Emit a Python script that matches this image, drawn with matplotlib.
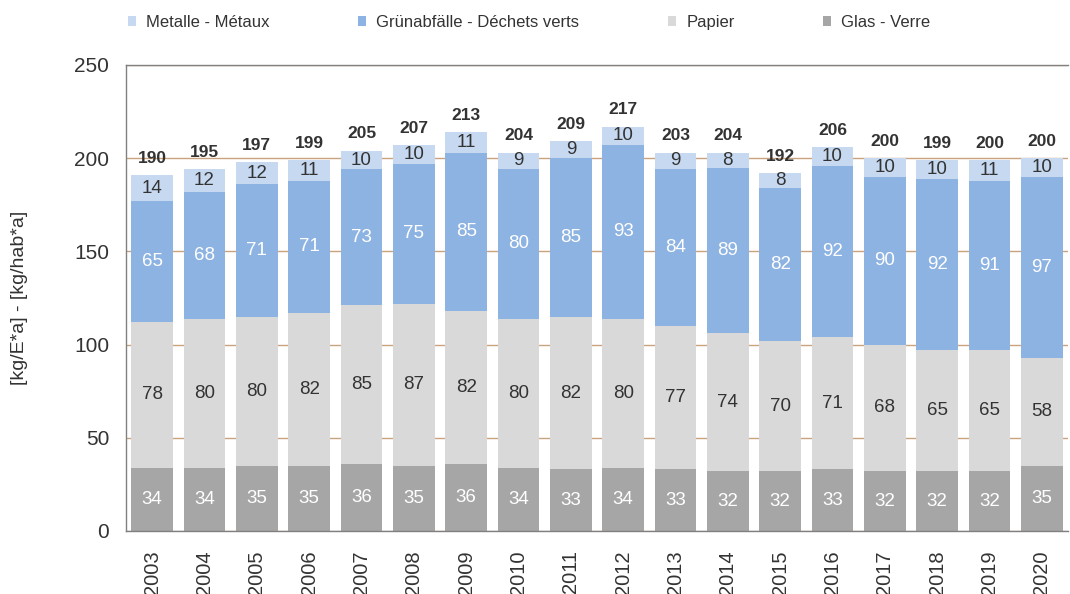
import matplotlib
matplotlib.use("Agg")
import matplotlib.pyplot as plt
import numpy as np

plt.rcParams['font.family'] = ['Liberation Sans', 'DejaVu Sans']

years = ["2003", "2004", "2005", "2006", "2007", "2008", "2009", "2010", "2011",
         "2012", "2013", "2014", "2015", "2016", "2017", "2018", "2019", "2020"]
glas = [34, 34, 35, 35, 36, 35, 36, 34, 33, 34, 33, 32, 32, 33, 32, 32, 32, 35]
papier = [78, 80, 80, 82, 85, 87, 82, 80, 82, 80, 77, 74, 70, 71, 68, 65, 65, 58]
gruen = [65, 68, 71, 71, 73, 75, 85, 80, 85, 93, 84, 89, 82, 92, 90, 92, 91, 97]
metalle = [14, 12, 12, 11, 10, 10, 11, 9, 9, 10, 9, 8, 8, 10, 10, 10, 11, 10]
totals = [190, 195, 197, 199, 205, 207, 213, 204, 209, 217, 203, 204, 192, 206, 200, 199, 200, 200]

series = [
    ("Metalle - Métaux", metalle, "#c6d9f1", "#333333"),
    ("Grünabfälle - Déchets verts", gruen, "#8db3e2", "white"),
    ("Papier", papier, "#d9d9d9", "#333333"),
    ("Glas - Verre", glas, "#a6a6a6", "white"),
]

fig = plt.figure(figsize=(10.7, 5.94), dpi=100)
ax = fig.add_axes([126/1070, 1-531/594, (1068-126)/1070, (531-65)/594])

x = np.arange(len(years))
order = [3, 2, 1, 0]  # bottom to top
bottom = np.zeros(len(years))
handles = {}
for i in order:
    name, vals, col, tcol = series[i]
    vals = np.array(vals, dtype=float)
    b = ax.bar(x, vals, 0.8, bottom=bottom, color=col, label=name, zorder=2)
    handles[i] = b
    for xi, v, bt in zip(x, vals, bottom):
        ax.text(xi, bt + v/2, f"{int(v)}", ha="center", va="center",
                fontsize=13.5, color=tcol, zorder=3)
    bottom += vals

stack_top = bottom
for xi, t, top in zip(x, totals, stack_top):
    ax.text(xi, top + 5, f"{t}", ha="center", va="bottom", fontsize=12.5,
            fontweight="bold", color="#333333", zorder=3)

ax.set_xlim(-0.5, len(years) - 0.5)
ax.set_ylim(0, 250)
ax.set_yticks([0, 50, 100, 150, 200, 250])
ax.yaxis.grid(True, color="#c9a27e", linewidth=1.0, zorder=0)
ax.set_axisbelow(True)
ax.set_xticks(x)
ax.set_xticklabels(years, rotation=90, fontsize=14.5, color="#333333")
ax.tick_params(axis="y", labelsize=15, colors="#333333", length=0, pad=12)
ax.tick_params(axis="x", length=0, pad=14)
for s in ["left", "top", "bottom"]:
    ax.spines[s].set_color("#808080")
    ax.spines[s].set_linewidth(1.0)
ax.spines["right"].set_visible(False)
ax.set_ylabel("[kg/E*a] - [kg/hab*a]", fontsize=14, color="#333333", labelpad=33)

leg_h = [handles[i] for i in range(4)]
leg_l = [series[i][0] for i in range(4)]
fig.legend(leg_h, leg_l, loc="upper left", bbox_to_anchor=(113/1070, 1.0), ncol=4,
           frameon=False, fontsize=12, handlelength=0.5, handleheight=0.5,
           handletextpad=0.6, columnspacing=5.3, labelcolor="#333333")

fig.savefig("out.png", dpi=100)
